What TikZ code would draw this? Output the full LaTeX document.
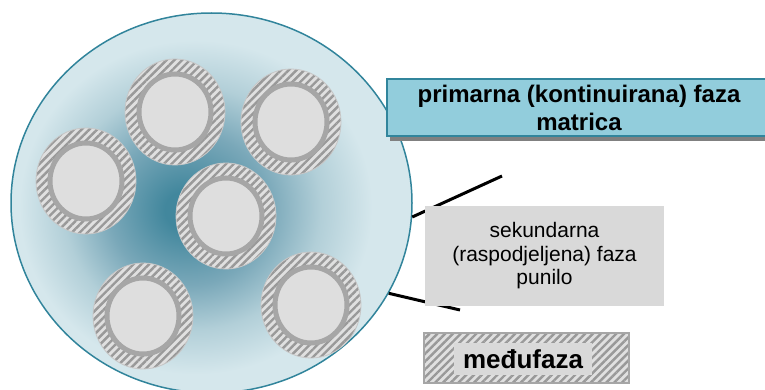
\documentclass[tikz,border=0pt]{standalone}
\usepackage{fontspec}
\setmainfont{Liberation Sans}
\usetikzlibrary{shapes.geometric,shadows,patterns.meta,positioning}

\definecolor{matdark}{RGB}{66,135,157}
\definecolor{matmid}{RGB}{122,168,185}
\definecolor{matpale}{RGB}{178,207,216}
\definecolor{matlight}{RGB}{213,231,236}
\definecolor{matedge}{RGB}{49,132,155}
\definecolor{primfill}{RGB}{146,205,220}
\definecolor{primedge}{RGB}{49,133,156}

\pgfdeclareradialshading{matshade}{\pgfpoint{-3.5bp}{-1bp}}{color(0bp)=(matdark); color(2.5bp)=(matdark); color(10bp)=(matmid); color(16bp)=(matpale); color(22bp)=(matlight); color(50bp)=(matlight)}

\begin{document}
\begin{tikzpicture}[
    x=1pt, y=-1pt,
    phase/.style={ellipse, draw=matedge, line width=1.5pt, shading=matshade, minimum width=401pt, minimum height=380pt, inner sep=0pt},
    hatch/.style={preaction={fill=black!12}, pattern={Lines[angle=45,distance=5.5pt,line width=2.4pt]}, pattern color=black!40},
    grain/.style={ellipse, hatch, draw=black!22, line width=0.8pt, minimum width=100pt, minimum height=106pt, inner sep=0pt},
    core/.style={ellipse, draw=black!35, line width=5pt, fill=black!13, minimum width=72pt, minimum height=76pt, inner sep=0pt},
    primbox/.style={rectangle, draw=primedge, line width=2pt, fill=primfill, drop shadow={shadow xshift=3pt, shadow yshift=-5pt, fill=black!50, opacity=1}, minimum width=384pt, minimum height=57pt, align=center, font=\fontsize{24}{28}\selectfont\bfseries},
    secbox/.style={rectangle, fill=black!15, minimum width=239pt, minimum height=100pt, align=center, font=\fontsize{21}{23.5}\selectfont},
    interbox/.style={rectangle, hatch, draw=black!35, line width=2pt, minimum width=205pt, minimum height=50pt},
    tag/.style={rectangle, fill=black!15, minimum width=138pt, minimum height=32pt, inner sep=0pt, font=\fontsize{26}{30}\selectfont\bfseries},
    leader/.style={draw=black, line width=3pt}
]
\useasboundingbox (0,0) rectangle (765,390);

% Matrix (continuous phase)
\node[phase] (mat) at (211.5,203) {};

% Leader lines
\coordinate (tip1) at (502,176);
\coordinate (tip2) at (460,310);
\draw[leader] (mat.-4) -- (tip1);
\draw[leader] (mat.-27) -- (tip2);

% Filler particles with interphase ring
\node[grain] (g1) at (175,112) {};
\node[core] (c1) at (g1) {};
\node[grain] (g2) at (291,122) {};
\node[core] (c2) at (g2) {};
\node[grain] (g3) at (86,181) {};
\node[core] (c3) at (g3) {};
\node[grain] (g4) at (226,216) {};
\node[core] (c4) at (g4) {};
\node[grain] (g5) at (143,316) {};
\node[core] (c5) at (g5) {};
\node[grain] (g6) at (311,305) {};
\node[core] (c6) at (g6) {};

% Labels
\node[primbox] (prim) at (579,107.5) {primarna (kontinuirana) faza\\matrica};
\node[secbox] (sec) at (544.5,256) {sekundarna\\(raspodjeljena) faza\\punilo};
\node[interbox] (inter) at (526.5,358) {};
\node[tag] (intertag) at (523,359) {međufaza};

\end{tikzpicture}
\end{document}
